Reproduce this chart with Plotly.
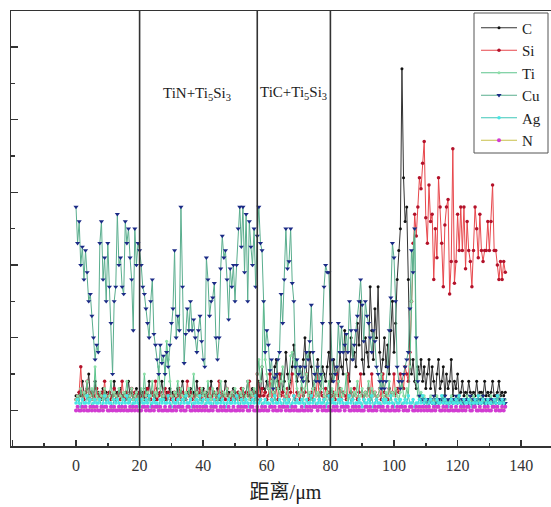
import plotly.graph_objects as go

# distance grid (um), 0.5 um step, 0..135
step = 0.5
n_pts = 271
distance = [i * step for i in range(n_pts)]

C = [
    4,3,5,4,8,5,4,6,10,4,5,3,8,4,5,4,3,6,4,5,4,
    5,4,3,8,4,5,4,6,4,3,5,4,8,4,5,3,4,6,4,5,
    4,5,3,6,4,8,4,5,4,3,6,4,5,8,4,3,5,4,6,4,
    5,4,3,6,4,5,8,4,3,5,4,6,4,5,3,8,4,5,4,6,
    4,5,3,4,8,4,5,4,6,3,4,5,4,8,4,5,3,4,6,5,
    4,5,4,3,6,4,5,8,4,5,6,4,5,3,8,4,12,6,5,8,
    6,10,8,5,12,14,8,6,10,5,8,16,10,6,8,12,18,14,8,10,
    12,8,14,20,10,8,16,12,6,8,10,14,8,6,12,10,8,12,16,10,
    8,14,10,12,8,16,12,10,22,14,10,8,20,14,16,12,24,18,30,14,
    10,20,16,12,34,22,14,28,20,34,16,10,14,20,12,18,10,22,30,16,
    24,36,44,50,94,64,52,56,36,14,10,14,8,6,12,10,14,8,12,6,
    10,14,6,12,8,4,10,14,6,8,12,4,10,6,8,14,4,8,6,10,
    4,5,8,4,5,4,8,5,4,5,4,8,4,5,5,4,8,4,5,4,5,8,4,4,5,8,4,5,4,5,
]

Si = [
    3,4,5,12,4,3,5,8,4,3,5,4,3,6,4,3,5,4,8,3,4,
    5,3,4,6,3,4,5,3,8,4,3,5,4,3,6,4,5,3,4,5,
    3,4,5,3,6,4,3,5,4,8,3,4,5,3,4,6,3,5,4,3,
    4,5,3,4,6,3,5,4,3,8,4,5,3,4,3,5,4,6,3,4,
    5,3,4,6,3,4,5,3,4,8,3,5,4,3,6,4,3,5,4,3,
    4,5,3,6,4,3,5,4,8,3,4,5,3,10,4,3,6,4,5,3,
    4,10,3,5,4,6,3,10,4,5,3,4,6,3,5,10,4,3,5,4,
    3,6,4,5,10,3,4,5,3,6,4,10,3,5,4,3,6,4,5,3,
    4,5,3,10,4,6,3,5,4,3,10,4,5,3,6,4,3,5,10,4,
    3,5,4,6,3,10,4,5,3,4,6,3,10,5,4,3,6,4,5,10,
    4,6,5,10,8,6,12,10,8,16,30,46,54,48,56,64,61,68,74,53,
    46,62,52,54,36,50,42,64,56,46,34,51,56,58,32,41,72,35,41,54,
    44,56,44,56,39,52,44,41,34,44,56,50,42,54,44,41,44,44,52,44,52,62,44,44,40,36,41,36,41,38,
]

Ti = [
    3,4,2,6,3,5,4,8,3,4,6,3,12,4,3,5,4,3,6,4,3,
    4,8,3,5,4,3,6,4,3,5,4,8,3,4,6,3,4,5,3,4,
    6,3,10,4,5,3,4,8,3,5,4,12,6,3,4,10,19,14,8,4,
    3,5,4,8,3,6,4,3,5,4,6,3,4,10,3,5,4,3,6,4,
    5,3,8,4,3,6,4,5,3,4,8,3,5,4,6,3,4,5,3,6,
    4,3,5,4,6,3,4,8,3,5,4,6,3,10,14,8,12,30,14,10,
    6,4,8,5,3,10,6,4,8,12,6,4,3,8,15,16,14,10,6,4,
    5,8,3,6,10,4,5,3,6,8,4,5,3,6,10,4,3,5,8,4,
    6,3,5,4,8,3,6,4,5,10,3,4,6,3,5,4,8,3,4,6,
    3,5,4,8,3,6,4,5,3,4,6,10,4,3,5,4,8,3,5,4,
    6,4,3,5,8,4,3,6,4,12,30,44,50,8,4,3,5,3,4,3,
    2,3,4,2,3,2,4,3,2,3,4,2,3,2,3,4,2,3,2,4,3,2,3,2,3,
    4,2,3,2,4,3,2,3,2,4,3,2,3,2,3,4,2,3,2,3,4,2,3,2,3,
]

Cu = [
    56,46,52,40,45,36,44,38,30,32,26,20,14,18,16,46,52,36,42,30,46,
    34,24,10,30,34,54,40,42,34,32,52,46,50,42,36,22,50,40,46,44,
    40,34,32,28,24,20,30,36,21,18,14,10,18,13,15,10,16,12,18,24,
    28,44,20,26,22,56,34,13,21,28,22,30,22,25,20,16,22,26,19,14,
    12,42,36,26,30,31,35,20,14,20,39,48,42,44,36,25,39,34,40,30,
    40,50,56,45,56,38,54,30,52,45,40,50,34,48,56,46,44,30,16,22,
    18,11,14,6,9,10,14,16,32,24,36,50,39,41,50,35,30,12,14,10,
    12,9,8,12,16,14,19,29,16,10,8,12,8,10,24,34,40,38,38,24,
    14,8,10,12,24,16,23,16,18,21,16,30,22,14,18,22,26,30,36,29,
    19,30,26,24,20,16,22,19,12,10,8,6,8,6,8,12,22,31,46,42,
    30,12,8,6,8,10,12,14,16,28,44,38,50,20,8,4,3,3,2,3,
    3,2,3,2,4,2,3,2,3,3,2,4,2,3,2,3,2,3,4,2,3,2,3,2,3,
    3,2,4,2,3,2,3,2,3,2,4,2,3,2,3,2,3,3,2,4,2,3,2,3,2,
]

Ag = [
    2,3,2,1,3,2,2,4,2,3,1,
    2,3,2,2,3,1,2,4,2,3,
    2,2,1,3,2,3,2,1,2,3,
    2,4,2,3,1,2,2,3,2,1,
    3,2,2,3,2,4,1,2,3,2,
    2,1,3,2,3,2,2,4,2,1,
    3,2,2,3,1,2,3,2,4,2,
    2,3,1,2,2,3,2,4,2,3,
    1,2,3,2,2,1,3,2,2,4,
    2,3,2,1,2,3,2,2,3,2,
    4,2,1,3,2,2,3,2,1,2,
    3,2,4,2,2,3,1,2,3,2,
    2,1,3,2,4,2,2,3,2,1,
    3,2,2,3,1,2,4,2,3,2,
    2,3,2,1,3,2,2,4,2,3,
    1,2,3,2,2,3,1,2,4,2,
    3,2,2,1,3,2,3,2,1,2,
    2,4,2,3,1,2,2,3,2,1,
    3,2,2,3,2,4,1,2,3,2,
    2,1,3,2,3,2,2,4,2,1,
    3,2,2,3,1,2,3,2,4,2,
    2,3,1,2,2,3,2,4,2,3,
    1,2,3,2,2,1,3,2,2,4,
    2,3,2,1,2,3,2,2,3,2,
    4,2,1,3,2,2,3,2,1,2,
    3,2,4,2,2,3,1,2,3,2,
    2,1,3,2,4,2,2,3,2,1,
]

N = [
    0,1,0,0,1,0,1,0,0,1,0,
    1,0,1,0,0,1,0,1,1,0,
    0,1,0,1,0,0,1,0,1,0,
    1,0,0,1,0,1,0,1,0,0,
    0,1,1,0,1,0,0,1,0,1,
    1,0,1,0,0,1,0,0,1,0,
    0,1,0,1,1,0,1,0,0,1,
    1,0,0,1,0,1,0,1,0,1,
    0,1,0,0,1,0,1,1,0,0,
    1,0,1,0,0,1,0,0,1,0,
    0,1,0,1,0,1,1,0,0,1,
    1,0,0,1,0,0,1,0,1,0,
    0,1,1,0,1,0,0,1,0,1,
    1,0,1,0,0,1,0,1,0,0,
    0,1,0,0,1,0,1,0,1,1,
    1,0,1,1,0,1,0,0,1,0,
    0,1,0,1,0,0,1,1,0,1,
    1,0,0,1,0,1,0,1,0,0,
    0,1,1,0,1,0,0,1,0,1,
    1,0,1,0,0,1,0,0,1,0,
    0,1,0,1,1,0,1,0,0,1,
    1,0,0,1,0,1,0,1,0,1,
    0,1,0,0,1,0,1,1,0,0,
    1,0,1,0,0,1,0,0,1,0,
    0,1,0,1,0,1,1,0,0,1,
    1,0,0,1,0,0,1,0,1,0,
    0,1,1,0,1,0,0,1,0,1,
]

series_names = ["C", "Si", "Ti", "Cu", "Ag", "N"]
series_values = [C, Si, Ti, Cu, Ag, N]
line_colors = ["#333333", "#e8474c", "#5cc48c", "#5aae8e", "#3fc7b8", "#c9c04a"]
marker_colors = ["#111111", "#b3122a", "#8ee0a8", "#1b2a86", "#48e6e6", "#d23cd2"]
marker_symbols = ["circle", "circle", "circle", "triangle-down", "circle", "circle"]
marker_sizes = [3, 3.5, 3, 4.5, 3.5, 4]

boundaries = [20, 57, 80]
phase_labels = ["TiN+Ti<sub>5</sub>Si<sub>3</sub>", "TiC+Ti<sub>5</sub>Si<sub>3</sub>"]
phase_label_x = [38, 68.5]
phase_label_y = [87.0, 87.3]

x_ticks = [-20, 0, 20, 40, 60, 80, 100, 120, 140]

fig = go.Figure()
for name, vals, lc, mc, sym, ms in zip(series_names, series_values, line_colors,
                                       marker_colors, marker_symbols, marker_sizes):
    fig.add_trace(go.Scatter(
        x=distance[:len(vals)], y=vals, name=name, mode="lines+markers",
        line=dict(color=lc, width=1),
        marker=dict(color=mc, symbol=sym, size=ms, line=dict(width=0)),
    ))

for b in boundaries:
    fig.add_shape(type="line", xref="x", yref="paper", x0=b, x1=b, y0=0, y1=1,
                  line=dict(color="#333333", width=1.6))

# legend frame drawn as a shape (paper coords)
fig.add_shape(type="rect", xref="paper", yref="paper",
              x0=(474 - 11) / 549, x1=(548 - 11) / 549,
              y0=(446 - 153) / 435, y1=(446 - 13) / 435,
              line=dict(color="#555555", width=1), fillcolor="rgba(0,0,0,0)")

for txt, xx, yy in zip(phase_labels, phase_label_x, phase_label_y):
    fig.add_annotation(x=xx, y=yy, xref="x", yref="y", text=txt, showarrow=False,
                       font=dict(family="Liberation Serif", size=15, color="#222222"))

fig.update_layout(
    width=560, height=507,
    margin=dict(l=11, r=0, t=11, b=61, autoexpand=False),
    paper_bgcolor="white", plot_bgcolor="white",
    showlegend=True,
    legend=dict(x=(546 - 11) / 549, y=(446 - 11.5) / 435, xanchor="right", yanchor="top",
                borderwidth=0, bgcolor="rgba(0,0,0,0)",
                font=dict(family="Liberation Serif", size=15, color="#222222"),
                itemwidth=36, tracegroupgap=0),
    xaxis=dict(range=[-20.44, 152.2], tickvals=x_ticks, ticks="inside", ticklen=6,
               tickwidth=1.5, tickcolor="#333333", ticklabelstandoff=4,
               minor=dict(dtick=10, ticks="inside", ticklen=3, tickcolor="#333333"),
               showgrid=False, zeroline=False, showline=True, linecolor="#333333",
               linewidth=1.5, mirror=True,
               tickfont=dict(family="Liberation Serif", size=16, color="#333333"),
               title=dict(text="距离/μm", standoff=12,
                          font=dict(family="Liberation Serif, Noto Sans CJK SC", size=20,
                                    color="#222222"))),
    yaxis=dict(range=[-9.8, 109.9], tickvals=[0, 20, 40, 60, 80, 100], ticks="inside",
               ticklen=7, tickwidth=1.5, tickcolor="#333333", showticklabels=False,
               minor=dict(dtick=10, ticks="inside", ticklen=4, tickcolor="#333333"),
               showgrid=False, zeroline=False, showline=True, linecolor="#333333",
               linewidth=1.5, mirror=False),
)

fig.write_html("out.html", config={"displayModeBar": False, "staticPlot": True},
               post_script="document.body.style.margin='0px';document.body.style.overflow='hidden';")
